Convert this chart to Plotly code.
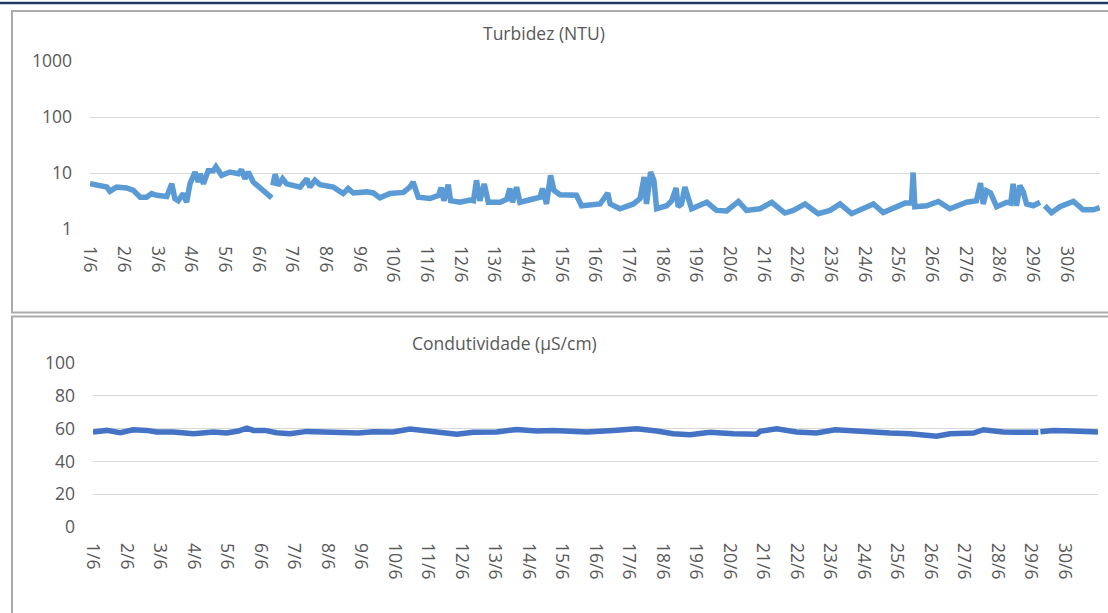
import plotly.graph_objects as go

# ---------------- data ----------------
days = list(range(1, 31))
day_labels = [f"{d}/6" for d in days]

turb_day = [1.00, 1.30, 1.50, 1.59, 1.79, 2.09, 2.29, 2.49, 2.68, 2.83, 2.98, 3.28, 3.43, 3.52, 3.62,
            3.77, 3.87, 3.97, 4.12, 4.22, 4.27, 4.37, 4.51, 4.66, 4.74, 4.91, 5.16, 5.41, 5.50, 5.60,
            5.70, 5.85, 6.05, 6.25, 6.40, 6.42, 6.43, 6.50, 6.59, 6.72, 6.84, 7.24, 7.44, 7.53, 7.68,
            7.83, 8.23, 8.52, 8.67, 8.82, 9.22, 9.42, 9.61, 9.91, 10.31, 10.50, 10.60, 10.75, 11.10, 11.35,
            11.43, 11.51, 11.64, 11.71, 11.99, 12.29, 12.39, 12.48, 12.58, 12.71, 12.83, 13.18, 13.38, 13.47, 13.55,
            13.67, 13.77, 14.17, 14.37, 14.44, 14.56, 14.68, 14.78, 14.96, 15.26, 15.45, 15.60, 15.95, 16.15, 16.38,
            16.45, 16.74, 17.14, 17.34, 17.46, 17.53, 17.65, 17.75, 17.83, 18.13, 18.28, 18.41, 18.47, 18.57, 18.67,
            18.87, 19.32, 19.61, 19.91, 20.26, 20.50, 20.90, 21.25, 21.64, 21.89, 22.24, 22.63, 22.98, 23.28, 23.62,
            23.97, 24.27, 24.56, 24.86, 25.21, 25.40, 25.45, 25.50, 25.85, 26.20, 26.54, 27.04, 27.33, 27.45, 27.53,
            27.63, 27.75, 27.93, 28.23, 28.35, 28.42, 28.52, 28.62, 28.72, 28.82, 29.02, 29.22, 29.29, 29.36, 29.56,
            29.81, 30.01, 30.21, 30.50, 30.80, 30.99]
turb_val = [6.45, 5.8, 5.6, 4.7, 5.6, 5.4, 4.9, 3.7, 3.7, 4.3, 4.0, 3.8, 6.4, 3.5, 3.2,
            4.3, 3.0, 6.4, 10.4, 6.9, 9.7, 6.4, 11.0, 11.0, 13.0, 9.1, 10.4, 9.7, 11.5, 7.9,
            10.4, 6.9, 5.3, 4.3, 3.6, None, 6.0, 9.5, 6.0, 7.9, 6.4, 5.6, 7.9, 5.6, 7.4,
            6.2, 5.6, 4.3, 5.3, 4.4, 4.6, 4.4, 3.6, 4.3, 4.5, 5.6, 6.9, 3.7, 3.5, 4.0,
            5.5, 3.2, 6.2, 3.2, 3.0, 3.3, 3.2, 7.4, 3.2, 6.4, 3.0, 3.0, 3.4, 5.3, 3.0,
            5.6, 3.0, 3.4, 3.7, 5.3, 2.8, 9.1, 4.9, 4.1, 4.0, 4.0, 2.6, 2.8, 2.8, 4.4,
            2.8, 2.3, 2.8, 3.5, 8.5, 2.8, 10.4, 7.4, 2.3, 2.6, 3.2, 5.4, 2.5, 2.8, 5.6,
            2.3, 3.0, 2.15, 2.1, 3.1, 2.15, 2.3, 3.0, 1.93, 2.15, 2.8, 1.88, 2.15, 2.8, 1.88,
            2.3, 2.8, 1.96, 2.4, 2.9, 2.9, 10.2, 2.5, 2.6, 3.1, 2.3, 3.0, 3.2, 6.6, 2.8,
            4.8, 4.4, 2.5, 3.0, 2.9, 6.4, 2.6, 6.0, 4.6, 2.8, 2.6, 3.0, None, 2.6, 1.96,
            2.5, 2.8, 3.1, 2.2, 2.2, 2.4]

cond_day = [1.00, 1.41, 1.81, 2.20, 2.60, 2.90, 3.40, 4.00, 4.59, 4.99, 5.34, 5.59, 5.79, 6.13, 6.48,
            6.88, 7.38, 7.78, 8.17, 8.57, 8.92, 9.37, 9.96, 10.46, 11.06, 11.86, 12.35, 13.05, 13.65, 14.24,
            14.74, 15.74, 16.53, 17.23, 17.83, 18.32, 18.82, 19.42, 20.11, 20.81, 20.91, 21.41, 22.00, 22.60, 23.15,
            23.70, 24.29, 24.79, 25.39, 26.18, 26.58, 27.28, 27.58, 28.17, 29.22, 29.25, 29.28, 29.67, 30.26, 31.00]
cond_val = [57.9, 58.9, 57.5, 59.3, 58.9, 57.9, 57.9, 56.9, 57.9, 57.3, 58.5, 60.3, 58.9, 58.9, 57.5,
            56.9, 58.3, 57.9, 58.3, 57.5, 57.3, 58.1, 57.9, 59.7, 58.3, 56.5, 57.7, 57.9, 59.5, 58.5,
            58.9, 57.9, 58.9, 59.9, 58.5, 56.9, 56.3, 57.7, 56.9, 56.5, 58.3, 59.9, 57.9, 57.3, 59.3,
            58.5, 58.3, 57.3, 56.9, 55.3, 56.9, 57.3, 59.3, 57.9, 57.7, None, 58.1, 58.9, 58.5, 57.9]

turb_ticks = [1, 10, 100, 1000]
cond_ticks = [0, 20, 40, 60, 80, 100]

assert len(turb_day) == len(turb_val)
assert len(cond_day) == len(cond_val)

# ---------------- figure ----------------
W, H = 1108, 613
FONT = "Open Sans"
TXT = "#595959"
GRID = "#d9d9d9"

fig = go.Figure()
fig.add_trace(go.Scatter(x=turb_day, y=turb_val, mode="lines", connectgaps=False,
                         line=dict(color="#5b9bd5", width=5.5), xaxis="x", yaxis="y",
                         showlegend=False, hoverinfo="skip"))
fig.add_trace(go.Scatter(x=cond_day, y=cond_val, mode="lines", connectgaps=False,
                         line=dict(color="#4472c4", width=5.5), xaxis="x2", yaxis="y2",
                         showlegend=False, hoverinfo="skip"))

def py(px):
    return 1 - px / H

def px_(p):
    return p / W

tickfont = dict(family=FONT, size=17.5, color=TXT)
common = dict(zeroline=False, showline=False, ticks="", automargin=False, tickfont=tickfont)

fig.update_layout(
    width=W, height=H, autosize=False,
    margin=dict(l=0, r=0, t=0, b=0, pad=0, autoexpand=False),
    paper_bgcolor="white", plot_bgcolor="white",
    font=dict(family=FONT, color=TXT),
    xaxis=dict(domain=[px_(90), px_(1100)], range=[1, 31], tickmode="array",
               tickvals=days, ticktext=day_labels, tickangle=90,
               showgrid=False, ticklabelstandoff=16, anchor="y", **common),
    yaxis=dict(domain=[py(229), py(61)], type="log", range=[0, 3], tickmode="array",
               tickvals=turb_ticks, ticktext=[str(t) for t in turb_ticks],
               showgrid=True, gridcolor=GRID, gridwidth=1.3, ticklabelstandoff=17,
               anchor="x", **common),
    xaxis2=dict(domain=[px_(93), px_(1098)], range=[1, 31], tickmode="array",
                tickvals=days, ticktext=day_labels, tickangle=90,
                showgrid=False, ticklabelstandoff=15, anchor="y2", **common),
    yaxis2=dict(domain=[py(527), py(363)], range=[0, 100], tickmode="array",
                tickvals=cond_ticks, ticktext=[str(t) for t in cond_ticks],
                showgrid=True, gridcolor=GRID, gridwidth=1.3, ticklabelstandoff=17,
                anchor="x2", **common),
    annotations=[
        dict(text="Turbidez (NTU)", x=px_(544), y=py(33), xref="paper", yref="paper",
             showarrow=False, xanchor="center", yanchor="middle",
             font=dict(family=FONT, size=17.5, color=TXT)),
        dict(text="Condutividade (µS/cm)", x=px_(504), y=py(343), xref="paper", yref="paper",
             showarrow=False, xanchor="center", yanchor="middle",
             font=dict(family=FONT, size=17.5, color=TXT)),
    ],
    shapes=[
        dict(type="line", xref="paper", yref="paper", x0=0, x1=1, y0=py(3), y1=py(3),
             line=dict(color="#1f3864", width=2.5)),
        dict(type="rect", xref="paper", yref="paper", x0=px_(12), x1=px_(1120),
             y0=py(312.5), y1=py(11), line=dict(color="#ababab", width=2), layer="below"),
        dict(type="rect", xref="paper", yref="paper", x0=px_(12), x1=px_(1120),
             y0=py(630), y1=py(316.5), line=dict(color="#ababab", width=2), layer="below"),
    ],
)

fig.write_html(
    "out.html",
    config={"responsive": False, "displayModeBar": False},
    post_script="document.body.style.margin='0px';document.body.style.overflow='hidden';",
)
